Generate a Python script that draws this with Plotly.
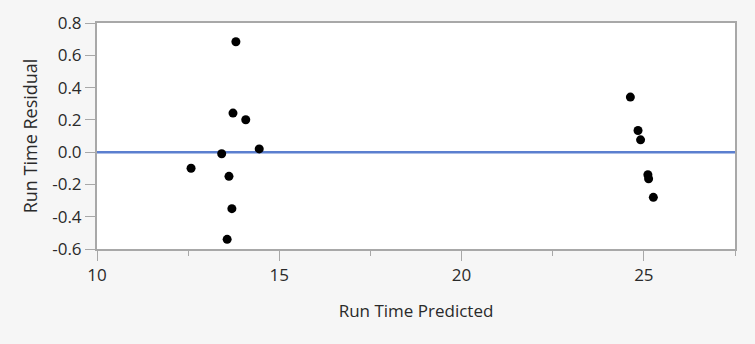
import plotly.graph_objects as go

predicted = [13.81, 13.73, 14.08, 13.42, 14.45, 12.58, 13.62, 13.70, 13.57,
             24.63, 24.84, 24.91, 25.11, 25.13, 25.26]
residual = [0.684, 0.242, 0.201, -0.01, 0.02, -0.10, -0.15, -0.35, -0.54,
            0.341, 0.134, 0.076, -0.14, -0.165, -0.28]

x_ticks = [10, 15, 20, 25]
y_ticks = [0.8, 0.6, 0.4, 0.2, 0.0, -0.2, -0.4, -0.6]
y_tick_text = ["0.8", "0.6", "0.4", "0.2", "0.0", "-0.2", "-0.4", "-0.6"]

fig = go.Figure()
fig.add_trace(go.Scatter(
    x=predicted, y=residual, mode="markers",
    marker=dict(color="black", size=9),
    showlegend=False, cliponaxis=False,
))
fig.add_hline(y=0, line=dict(color="#5b7fcf", width=2.5), layer="below")

axis_col = "#a8a8a8"
fig.update_layout(
    width=755, height=344,
    margin=dict(l=97, r=20, t=23, b=95),
    paper_bgcolor="#f6f6f6", plot_bgcolor="white",
    font=dict(family="Open Sans, sans-serif", color="#2a2a2a"),
    xaxis=dict(
        range=[10, 27.5], tickvals=x_ticks, ticks="outside", ticklen=10,
        tickcolor=axis_col, showline=True, linecolor=axis_col, linewidth=2,
        mirror=True, showgrid=False, zeroline=False,
        tickfont=dict(size=17, family="Open Sans, sans-serif"),
        minor=dict(tickvals=[12.5, 17.5, 22.5, 27.5], ticks="outside",
                   ticklen=5, tickcolor=axis_col, showgrid=False),
        title=dict(text="Run Time Predicted", font=dict(size=17), standoff=20),
    ),
    yaxis=dict(
        range=[-0.6, 0.8], tickvals=y_ticks, ticktext=y_tick_text,
        ticks="outside", ticklen=10, tickcolor=axis_col,
        showline=True, linecolor=axis_col, linewidth=2, mirror=True,
        showgrid=False, zeroline=False,
        tickfont=dict(size=17, family="Open Sans, sans-serif"),
        title=dict(text="Run Time Residual", font=dict(size=18), standoff=10),
    ),
)

fig.write_html(
    "out.html",
    config={"displayModeBar": False},
    post_script="document.body.style.margin='0';document.body.style.background='#f6f6f6';",
)
